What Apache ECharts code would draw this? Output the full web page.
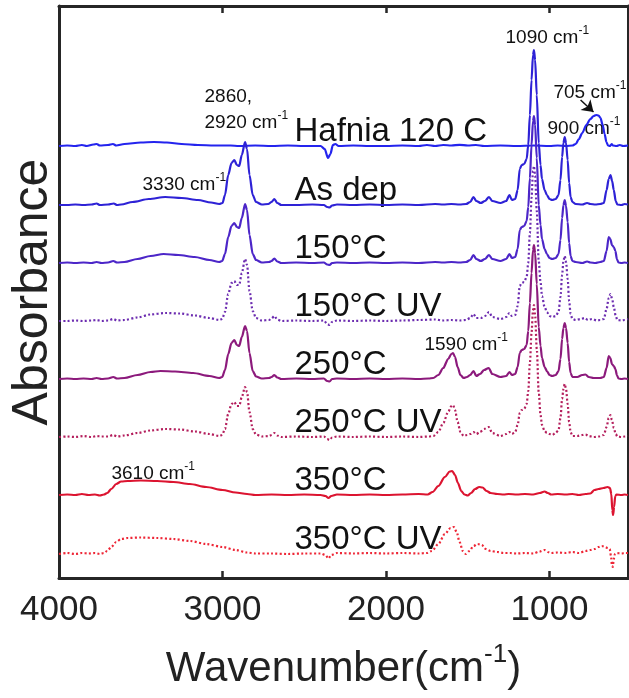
<!DOCTYPE html>
<html>
<head>
<meta charset="utf-8">
<script src="https://cdn.jsdelivr.net/npm/echarts@6/dist/echarts.min.js"></script>
<style>
html, body { margin: 0; padding: 0; background: #fff; }
#chart { width: 629px; height: 698px; }
</style>
</head>
<body>
<div id="chart"></div>
<script>
// FTIR spectra, [wavenumber cm-1, absorbance a.u. above own baseline]
const hafnia120 = [
  [4000,0],[3950,0.005],[3900,0],[3860,0.01],[3830,0],[3790,0.015],[3770,0.02],[3750,0.005],[3700,0.01],[3670,0.02],[3650,0.005],
  [3600,0.02],[3500,0.035],[3420,0.04],[3340,0.035],[3250,0.02],[3150,0.01],[3050,0.005],[2950,0.005],[2900,0],[2800,0.005],
  [2700,0],[2600,0.005],[2500,0],[2400,0],[2375,-0.03],[2355,-0.12],[2340,-0.08],[2325,0.01],[2310,0.02],[2290,0],[2200,0.005],
  [2100,0],[2000,0],[1900,0.005],[1800,0],[1750,0.01],[1700,0],[1650,0.01],[1600,0.005],[1550,0.012],[1500,0.005],[1450,0.01],
  [1400,0],[1300,0.005],[1200,0],[1100,0.005],[1000,0],[950,0.005],[900,0],[860,0.005],[840,0.02],[820,0.07],[800,0.13],
  [775,0.21],[750,0.27],[730,0.30],[715,0.31],[700,0.305],[688,0.28],[675,0.21],[663,0.12],[652,0.04],[642,0.005],[630,0],
  [620,0.02],[612,0.005],[590,0],[570,0.01],[550,0],[520,0.005]
];
const asDep = [
  [4000,0],[3950,0],[3900,0.005],[3850,0],[3800,0.005],[3770,0.015],[3750,0],[3700,0.005],[3665,0.015],[3645,0],[3620,0.005],
  [3550,0.03],[3450,0.06],[3350,0.08],[3250,0.07],[3150,0.05],[3070,0.025],[3020,0.01],[3000,0.02],[2985,0.10],[2965,0.30],
  [2945,0.42],[2928,0.45],[2912,0.40],[2898,0.39],[2882,0.50],[2862,0.63],[2850,0.56],[2835,0.30],[2815,0.10],[2795,0.03],
  [2760,0.005],[2720,0.01],[2700,0.03],[2683,0.06],[2665,0.02],[2640,0],[2550,0],[2450,0.005],[2380,0],[2360,-0.02],
  [2345,-0.025],[2330,-0.005],[2300,0.005],[2200,0],[2100,0.005],[2000,0],[1900,0.005],[1800,0],[1700,0.01],[1650,0.005],
  [1600,0.01],[1550,0.005],[1510,0.01],[1485,0.03],[1465,0.08],[1448,0.04],[1420,0.02],[1395,0.04],[1370,0.08],[1350,0.04],
  [1300,0.02],[1265,0.04],[1245,0.10],[1230,0.05],[1210,0.06],[1195,0.15],[1182,0.36],[1170,0.40],[1155,0.41],[1140,0.46],
  [1130,0.60],[1120,0.90],[1110,1.25],[1101,1.50],[1095,1.55],[1088,1.45],[1078,1.10],[1066,0.62],[1055,0.40],[1046,0.26],
  [1030,0.15],[1016,0.10],[1000,0.06],[984,0.05],[962,0.06],[945,0.10],[933,0.25],[923,0.48],[915,0.62],[907,0.68],[899,0.62],
  [889,0.45],[880,0.22],[871,0.08],[860,0.03],[840,0.01],[800,0.005],[770,0.02],[750,0.01],[720,0.005],[690,0.01],[668,0.02],
  [651,0.15],[638,0.26],[627,0.30],[617,0.24],[607,0.15],[595,0.04],[585,0.005],[560,0],[540,0.01],[520,0.005]
];
const t150 = [
  [4000,0],[3950,0.005],[3900,0],[3850,0.005],[3800,0],[3770,0.01],[3740,0],[3700,0.005],[3668,0.02],[3645,0.005],[3600,0.01],
  [3520,0.04],[3440,0.07],[3360,0.09],[3270,0.08],[3170,0.06],[3080,0.03],[3020,0.01],[3002,0.02],[2985,0.09],[2965,0.26],
  [2945,0.37],[2928,0.40],[2912,0.36],[2898,0.35],[2882,0.45],[2862,0.59],[2850,0.53],[2835,0.28],[2815,0.09],[2795,0.03],
  [2760,0.005],[2715,0.01],[2700,0.02],[2683,0.045],[2665,0.015],[2640,0],[2550,0.005],[2450,0],[2380,0.005],[2360,-0.015],
  [2345,-0.02],[2330,0],[2300,0.005],[2200,0],[2100,0.005],[2000,0],[1900,0.005],[1800,0],[1700,0.01],[1650,0.005],[1600,0.01],
  [1550,0.005],[1510,0.01],[1485,0.03],[1465,0.08],[1448,0.04],[1420,0.02],[1395,0.04],[1370,0.08],[1350,0.04],[1300,0.02],
  [1265,0.04],[1245,0.09],[1230,0.05],[1210,0.06],[1195,0.14],[1182,0.33],[1170,0.36],[1155,0.37],[1140,0.42],[1130,0.56],
  [1120,0.85],[1110,1.18],[1101,1.42],[1095,1.47],[1088,1.38],[1078,1.05],[1066,0.58],[1055,0.38],[1046,0.24],[1030,0.14],
  [1016,0.09],[1000,0.05],[984,0.04],[962,0.05],[945,0.09],[933,0.23],[923,0.45],[915,0.58],[907,0.63],[899,0.57],[889,0.41],
  [880,0.20],[871,0.07],[860,0.02],[840,0.01],[800,0],[770,0.015],[750,0.005],[720,0],[690,0.01],[668,0.02],[651,0.12],
  [638,0.26],[628,0.24],[618,0.18],[607,0.16],[597,0.12],[588,0.04],[578,0.005],[560,0],[540,0.005],[520,0]
];
const t150uv = [
  [4000,0],[3950,0],[3900,0.005],[3850,0],[3800,0.005],[3770,0.01],[3740,0],[3700,0.005],[3668,0.02],[3645,0.005],[3600,0.01],
  [3520,0.035],[3440,0.065],[3350,0.08],[3260,0.075],[3170,0.055],[3080,0.03],[3020,0.01],[3002,0.02],[2985,0.09],[2965,0.27],
  [2945,0.38],[2928,0.40],[2912,0.36],[2898,0.36],[2882,0.48],[2862,0.62],[2850,0.56],[2835,0.30],[2815,0.10],[2795,0.03],
  [2760,0.005],[2715,0.01],[2700,0.025],[2683,0.05],[2665,0.015],[2640,0],[2550,0.005],[2450,0],[2380,0.005],[2360,-0.03],
  [2345,-0.04],[2330,-0.01],[2300,0.005],[2200,0],[2100,0.005],[2000,0],[1900,0.005],[1800,0.01],[1700,0.015],[1650,0.005],
  [1600,0.01],[1550,0.005],[1510,0.01],[1485,0.03],[1465,0.07],[1448,0.03],[1420,0.03],[1395,0.05],[1370,0.09],[1350,0.04],
  [1300,0.02],[1265,0.04],[1245,0.08],[1230,0.05],[1210,0.06],[1195,0.15],[1182,0.35],[1170,0.38],[1155,0.39],[1140,0.44],
  [1130,0.58],[1120,0.88],[1110,1.23],[1101,1.50],[1095,1.55],[1088,1.45],[1078,1.10],[1066,0.60],[1055,0.39],[1046,0.25],
  [1030,0.14],[1016,0.09],[1000,0.05],[984,0.04],[962,0.05],[945,0.09],[933,0.24],[923,0.46],[915,0.60],[907,0.65],[899,0.59],
  [889,0.42],[880,0.20],[871,0.07],[860,0.02],[840,0.01],[810,0.02],[785,0.03],[765,0.01],[740,0.02],[710,0.005],[690,0.01],
  [668,0.02],[651,0.12],[638,0.23],[627,0.27],[617,0.22],[607,0.14],[595,0.05],[585,0.01],[560,0.005],[540,0.01],[520,0.02]
];
const t250 = [
  [4000,0],[3950,0.005],[3900,0],[3850,0.005],[3800,0],[3770,0.01],[3740,0],[3700,0.005],[3668,0.02],[3645,0.005],[3600,0.01],
  [3520,0.04],[3440,0.07],[3380,0.08],[3290,0.075],[3180,0.06],[3080,0.03],[3020,0.01],[3002,0.02],[2985,0.09],[2965,0.25],
  [2945,0.36],[2928,0.39],[2912,0.34],[2898,0.33],[2882,0.42],[2862,0.53],[2850,0.48],[2835,0.26],[2815,0.08],[2795,0.025],
  [2760,0.005],[2715,0.01],[2700,0.02],[2683,0.04],[2665,0.015],[2640,0],[2550,0.005],[2450,0],[2380,0.005],[2360,-0.02],
  [2345,-0.025],[2330,0],[2300,0.005],[2200,0],[2100,0.005],[2000,0],[1900,0.005],[1800,0],[1740,0.005],[1711,0.01],[1680,0.04],
  [1650,0.11],[1620,0.20],[1600,0.25],[1590,0.26],[1578,0.22],[1562,0.12],[1545,0.04],[1525,0.01],[1505,0.02],[1485,0.04],
  [1465,0.08],[1448,0.03],[1425,0.05],[1400,0.09],[1372,0.11],[1350,0.05],[1300,0.02],[1265,0.03],[1245,0.07],[1230,0.04],
  [1210,0.05],[1195,0.12],[1182,0.26],[1170,0.29],[1155,0.30],[1140,0.34],[1130,0.48],[1120,0.76],[1110,1.06],[1101,1.29],
  [1095,1.34],[1088,1.26],[1078,0.95],[1066,0.52],[1055,0.33],[1046,0.21],[1030,0.12],[1016,0.08],[1000,0.04],[984,0.03],
  [962,0.04],[945,0.08],[933,0.20],[923,0.40],[915,0.51],[907,0.56],[899,0.51],[889,0.36],[880,0.17],[871,0.06],[860,0.02],
  [830,0.02],[800,0.04],[780,0.045],[760,0.02],[730,0.01],[690,0.01],[668,0.02],[651,0.11],[638,0.23],[628,0.21],[618,0.15],
  [607,0.13],[597,0.10],[588,0.04],[578,0.005],[560,0],[540,0.005],[520,0]
];
const t250uv = [
  [4000,0],[3950,0.005],[3900,0],[3850,0.01],[3800,0],[3770,0.01],[3740,0.005],[3700,0.005],[3668,0.02],[3645,0.005],[3600,0.015],
  [3520,0.04],[3440,0.065],[3350,0.08],[3260,0.075],[3170,0.055],[3080,0.03],[3020,0.01],[3002,0.02],[2985,0.08],[2965,0.23],
  [2945,0.33],[2928,0.35],[2912,0.31],[2898,0.31],[2882,0.40],[2862,0.50],[2850,0.45],[2835,0.25],[2815,0.08],[2795,0.025],
  [2760,0.005],[2715,0.01],[2700,0.02],[2683,0.04],[2665,0.015],[2640,0],[2550,0.005],[2450,0],[2380,0.005],[2360,-0.02],
  [2345,-0.03],[2330,-0.005],[2300,0.005],[2200,0],[2100,0.005],[2000,0],[1900,0.005],[1800,0],[1740,0.005],[1711,0.01],
  [1680,0.05],[1650,0.14],[1620,0.25],[1600,0.31],[1590,0.32],[1578,0.27],[1562,0.15],[1545,0.05],[1525,0.01],[1505,0.02],
  [1485,0.03],[1465,0.05],[1448,0.03],[1425,0.05],[1400,0.08],[1372,0.10],[1350,0.04],[1300,0.01],[1265,0.03],[1245,0.05],
  [1230,0.03],[1210,0.05],[1195,0.12],[1182,0.24],[1170,0.27],[1155,0.28],[1140,0.33],[1130,0.46],[1120,0.74],[1110,1.04],
  [1101,1.27],[1095,1.32],[1088,1.22],[1078,0.88],[1066,0.45],[1055,0.22],[1046,0.12],[1030,0.06],[1016,0.04],[1000,0.03],
  [984,0.02],[962,0.04],[945,0.07],[933,0.19],[923,0.38],[915,0.48],[907,0.53],[899,0.48],[889,0.33],[880,0.15],[871,0.05],
  [860,0.01],[830,0.01],[800,0.02],[780,0.025],[760,0.01],[730,0],[700,0.005],[668,0.02],[651,0.10],[638,0.19],[628,0.22],
  [618,0.17],[607,0.09],[595,0.03],[585,0.005],[560,0],[540,0.005],[520,0.01]
];
const t350 = [
  [4000,0],[3950,0.005],[3900,0],[3860,0.01],[3820,0],[3780,0.005],[3750,-0.005],[3725,0.005],[3705,0.02],[3680,0.06],[3650,0.11],
  [3620,0.135],[3580,0.14],[3500,0.145],[3400,0.14],[3300,0.13],[3200,0.11],[3100,0.08],[3000,0.05],[2920,0.025],[2850,0.01],
  [2800,0],[2700,0.005],[2600,0],[2500,0.005],[2400,0],[2370,-0.01],[2352,-0.03],[2335,-0.01],[2300,0.005],[2200,0],[2100,0.005],
  [2000,0],[1900,0.005],[1800,0.01],[1745,0.005],[1715,0.03],[1680,0.09],[1640,0.18],[1610,0.235],[1595,0.24],[1578,0.20],
  [1560,0.12],[1540,0.04],[1520,0.005],[1500,-0.005],[1480,0.02],[1455,0.06],[1430,0.08],[1410,0.075],[1385,0.04],[1360,0.02],
  [1320,0.01],[1280,0.005],[1250,0.01],[1200,0.005],[1150,0.01],[1100,0.005],[1060,0.02],[1030,0.035],[1010,0.02],[990,0.005],
  [950,0.01],[900,0.005],[860,0.01],[820,0],[780,0.01],[750,0.015],[725,0.05],[700,0.06],[670,0.07],[645,0.08],[630,0.07],
  [622,0.01],[616,-0.15],[611,-0.20],[605,-0.12],[598,-0.01],[590,0.005],[560,0],[540,0.005],[520,0]
];
const t350uv = [
  [4000,0],[3950,0.01],[3900,0],[3860,0.01],[3820,0.005],[3780,0.01],[3750,0],[3725,0.01],[3705,0.03],[3680,0.07],[3650,0.12],
  [3620,0.15],[3580,0.16],[3500,0.165],[3400,0.16],[3300,0.15],[3200,0.13],[3100,0.10],[3000,0.07],[2920,0.04],[2850,0.015],
  [2800,0.005],[2700,0.005],[2600,0],[2500,0.005],[2400,0.005],[2370,-0.01],[2352,-0.045],[2335,-0.01],[2300,0.01],[2200,0.005],
  [2100,0.01],[2000,0.005],[1900,0.01],[1800,0.005],[1750,0.01],[1720,0.03],[1680,0.10],[1640,0.20],[1605,0.26],[1585,0.27],
  [1568,0.22],[1550,0.12],[1530,0.03],[1512,0],[1490,0.03],[1465,0.08],[1440,0.10],[1415,0.09],[1390,0.05],[1360,0.03],
  [1320,0.02],[1280,0.01],[1240,0.01],[1200,0.005],[1150,0.01],[1100,0.005],[1060,0.025],[1030,0.04],[1010,0.02],[990,0.01],
  [950,0.015],[900,0.01],[860,0.02],[820,0.01],[780,0.03],[750,0.04],[725,0.05],[700,0.07],[680,0.08],[660,0.07],[645,0.06],
  [632,0.05],[624,-0.02],[618,-0.12],[613,-0.13],[607,-0.05],[600,0],[590,0.01],[560,0.005],[540,0.01],[520,0.01]
];

const sampleNames = ['Hafnia 120 C', 'As dep', '150°C', '150°C UV', '250°C', '250°C UV', '350°C', '350°C UV'];
const stackOffsets = [4.32, 3.73, 3.15, 2.57, 1.99, 1.41, 0.83, 0.24];
const spectra = [hafnia120, asDep, t150, t150uv, t250, t250uv, t350, t350uv];
const xTicks = [1000, 2000, 3000];
const xTickLabels = [1000, 2000, 3000, 4000];

// peak annotations: text, superscript, wavenumber, absorbance of text bottom
const peakNotes = [
  ['1090 cm', '-1', 1269, 5.27],
  ['2860,', '', 3110, 4.68],
  ['2920 cm', '-1', 3110, 4.42],
  ['3330 cm', '-1', 3489, 3.80],
  ['705 cm', '-1', 976, 4.72],
  ['900 cm', '-1', 1012, 4.36],
  ['1590 cm', '-1', 1765, 2.20],
  ['3610 cm', '-1', 3679, 0.91]
];
const nameLabelWn = 2560;

const colors = ['#2424ee', '#2e22d6', '#4c26c8', '#6c2cb0', '#8c1a7c', '#b41e5c', '#dc1430', '#ee2636'];
const dottedLine = [false, false, false, true, false, true, false, true];
const font = 'Liberation Sans, Arial, sans-serif';
const axisColor = '#262626';

const chart = echarts.init(document.getElementById('chart'));

const series = spectra.map((s, i) => ({
  type: 'line',
  name: sampleNames[i],
  data: s.map(p => [p[0], p[1] + stackOffsets[i]]),
  showSymbol: false,
  smooth: 0.3,
  smoothMonotone: 'x',
  silent: true,
  lineStyle: { color: colors[i], width: 2.2, type: dottedLine[i] ? [2, 2.3] : 'solid' }
}));

// arrow to the 705 band
series[0].markLine = {
  silent: true,
  symbol: ['none', 'arrow'],
  symbolSize: 11,
  label: { show: false },
  lineStyle: { color: '#111', width: 1.5, type: 'solid' },
  data: [[{ coord: [810, 4.78] }, { coord: [731, 4.66] }]]
};

function xAxisBase(pos) {
  return {
    type: 'value',
    position: pos,
    inverse: true,
    min: 520,
    max: 4000,
    axisLine: { show: true, onZero: false, lineStyle: { color: axisColor, width: 3 } },
    axisTick: { show: true, inside: true, length: 7, customValues: xTicks, lineStyle: { color: axisColor, width: 2.5 } },
    splitLine: { show: false },
    axisLabel: { show: false }
  };
}
const xBottom = xAxisBase('bottom');
xBottom.axisLabel = {
  show: true, customValues: xTickLabels, fontSize: 35, color: '#222', fontFamily: font, margin: 15,
  formatter: v => String(v)
};
xBottom.name = '{a|Wavenumber(cm}{s|-1}{a|)}';
xBottom.nameLocation = 'middle';
xBottom.nameGap = 64;
xBottom.nameTextStyle = {
  rich: {
    a: { fontSize: 42, fontFamily: font, color: '#222', lineHeight: 54 },
    s: { fontSize: 26, fontFamily: font, color: '#222', lineHeight: 26, verticalAlign: 'top' }
  }
};
const xTop = xAxisBase('top');

function yAxisBase(pos) {
  return {
    type: 'value',
    position: pos,
    min: 0,
    max: 5.72,
    axisLine: { show: true, onZero: false, lineStyle: { color: axisColor, width: 3 } },
    axisTick: { show: false },
    axisLabel: { show: false },
    splitLine: { show: false }
  };
}
const yLeft = yAxisBase('left');
yLeft.name = 'Absorbance';
yLeft.nameLocation = 'middle';
yLeft.nameGap = 1;
yLeft.nameTextStyle = { fontSize: 50, fontFamily: font, color: '#222' };
const yRight = yAxisBase('right');

chart.setOption({
  animation: false,
  backgroundColor: '#fff',
  grid: { left: 59, right: 1, top: 6, bottom: 120, containLabel: false, outerBoundsMode: 'none' },
  xAxis: [xBottom, xTop],
  yAxis: [yLeft, yRight],
  series: series
});

// text labels placed through the axes
const graphics = [];
sampleNames.forEach((name, i) => {
  const p = chart.convertToPixel({ xAxisIndex: 0, yAxisIndex: 0 }, [nameLabelWn, stackOffsets[i] - 0.025]);
  graphics.push({
    type: 'text', x: p[0], y: p[1], silent: true,
    style: { text: name, fill: '#111', font: '33px ' + font, align: 'left', verticalAlign: 'bottom' }
  });
});
peakNotes.forEach(n => {
  const p = chart.convertToPixel({ xAxisIndex: 0, yAxisIndex: 0 }, [n[2], n[3]]);
  graphics.push({
    type: 'text', x: p[0], y: p[1], silent: true,
    style: {
      text: n[1] ? '{a|' + n[0] + '}{s|' + n[1] + '}' : '{a|' + n[0] + '}',
      align: 'left', verticalAlign: 'bottom',
      rich: {
        a: { fontSize: 19, fontFamily: font, fill: '#111', lineHeight: 26 },
        s: { fontSize: 12, fontFamily: font, fill: '#111', lineHeight: 12, verticalAlign: 'top' }
      }
    }
  });
});
chart.setOption({ graphic: graphics });
</script>
</body>
</html>
